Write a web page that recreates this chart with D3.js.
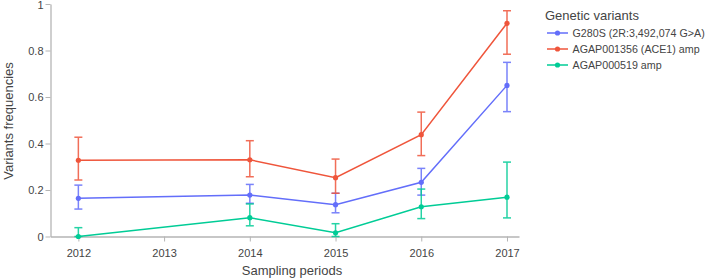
<!DOCTYPE html>
<html><head><meta charset="utf-8">
<script src="https://cdn.jsdelivr.net/npm/d3@7"></script>
<style>body{margin:0;background:#fff;font-family:"Liberation Sans",Arial,sans-serif;}</style>
</head><body><svg id="c" width="707" height="279"></svg>
<script>
const years = [2012, 2014, 2015, 2016, 2017];
const xTicks = [2012, 2013, 2014, 2015, 2016, 2017];
const yTicks = [0, 0.2, 0.4, 0.6, 0.8, 1];
const seriesNames = ["G280S (2R:3,492,074 G>A)", "AGAP001356 (ACE1) amp", "AGAP000519 amp"];
const seriesColors = ["#636EFA", "#EF553B", "#00CC96"];
const g280sVal = [0.164, 0.178, 0.137, 0.233, 0.650];
const g280sLo  = [0.118, 0.143, 0.102, 0.178, 0.537];
const g280sHi  = [0.221, 0.224, 0.186, 0.293, 0.749];
const ace1Val = [0.328, 0.330, 0.253, 0.438, 0.917];
const ace1Lo  = [0.243, 0.257, 0.186, 0.348, 0.784];
const ace1Hi  = [0.427, 0.412, 0.333, 0.535, 0.971];
const a519Val = [0.000, 0.081, 0.016, 0.128, 0.169];
const a519Lo  = [0.000, 0.046, 0.000, 0.077, 0.080];
const a519Hi  = [0.038, 0.140, 0.055, 0.204, 0.320];

const series = [
  {name: seriesNames[0], color: seriesColors[0], v: g280sVal, lo: g280sLo, hi: g280sHi},
  {name: seriesNames[1], color: seriesColors[1], v: ace1Val, lo: ace1Lo, hi: ace1Hi},
  {name: seriesNames[2], color: seriesColors[2], v: a519Val, lo: a519Lo, hi: a519Hi}
];

const svg = d3.select("#c");
const x = d3.scaleLinear().domain([2011.675, 2017.14]).range([50.5, 519]);
const y = d3.scaleLinear().domain([0, 1]).range([236.5, 4]);
const axisColor = "#b5b5b5", textColor = "#444";
const ff = "Liberation Sans, Arial, sans-serif";

const xa = svg.append("g").attr("transform", "translate(0,236.5)")
  .call(d3.axisBottom(x).tickValues(xTicks).tickFormat(d3.format("d")).tickSize(5).tickSizeOuter(0));
const ya = svg.append("g").attr("transform", "translate(50.5,0)")
  .call(d3.axisLeft(y).tickValues(yTicks).tickFormat(d => d === 0 || d === 1 ? String(d) : d3.format(".1f")(d)).tickSize(5).tickSizeOuter(0));
[xa, ya].forEach(a => {
  a.select(".domain").attr("stroke", axisColor).attr("stroke-width", 1.3);
  a.selectAll(".tick line").attr("stroke", axisColor);
  a.selectAll(".tick text").attr("fill", textColor).attr("font-size", 11).attr("font-family", ff);
});
xa.selectAll(".tick text").attr("dy", "1.15em");
ya.selectAll(".tick text").attr("x", -7).attr("dy", d => d === 1 ? "0.45em" : "0.32em");

svg.append("text").attr("x", 292).attr("y", 275).attr("text-anchor", "middle").attr("font-family", ff)
  .attr("font-size", 13).attr("fill", textColor).text("Sampling periods");
svg.append("text").attr("transform", "translate(12.5,121) rotate(-90)").attr("text-anchor", "middle").attr("font-family", ff)
  .attr("font-size", 13).attr("fill", textColor).text("Variants frequencies");

const line = d3.line().x(d => x(d[0])).y(d => y(d[1]));
series.forEach(s => {
  const g = svg.append("g");
  const pts = years.map((yr, i) => [yr, s.v[i], s.lo[i], s.hi[i]]);
  pts.forEach(p => {
    const cx = x(p[0]);
    const eg = g.append("g").attr("stroke", s.color).attr("stroke-width", 1.5).attr("opacity", 0.85);
    eg.append("line").attr("x1", cx).attr("x2", cx).attr("y1", y(p[2])).attr("y2", y(p[3]));
    eg.append("line").attr("x1", cx - 4).attr("x2", cx + 4).attr("y1", y(p[2])).attr("y2", y(p[2]));
    eg.append("line").attr("x1", cx - 4).attr("x2", cx + 4).attr("y1", y(p[3])).attr("y2", y(p[3]));
  });
  g.append("path").datum(pts).attr("d", line).attr("fill", "none")
    .attr("stroke", s.color).attr("stroke-width", 1.5);
  g.selectAll("circle").data(pts).join("circle")
    .attr("cx", d => x(d[0])).attr("cy", d => y(d[1])).attr("r", 2.6).attr("fill", s.color);
});

const lg = svg.append("g");
lg.append("text").attr("x", 545).attr("y", 20).attr("font-size", 13).attr("font-family", ff)
  .attr("fill", textColor).text("Genetic variants");
series.forEach((s, i) => {
  const cy = 33 + i * 16;
  lg.append("line").attr("x1", 547).attr("x2", 568).attr("y1", cy).attr("y2", cy)
    .attr("stroke", s.color).attr("stroke-width", 1.5);
  lg.append("circle").attr("cx", 557.5).attr("cy", cy).attr("r", 2.6).attr("fill", s.color);
  lg.append("text").attr("x", 572.5).attr("y", cy).attr("dy", "0.35em").attr("font-size", 10.7).attr("font-family", ff)
    .attr("fill", textColor).text(s.name);
});
</script></body></html>
